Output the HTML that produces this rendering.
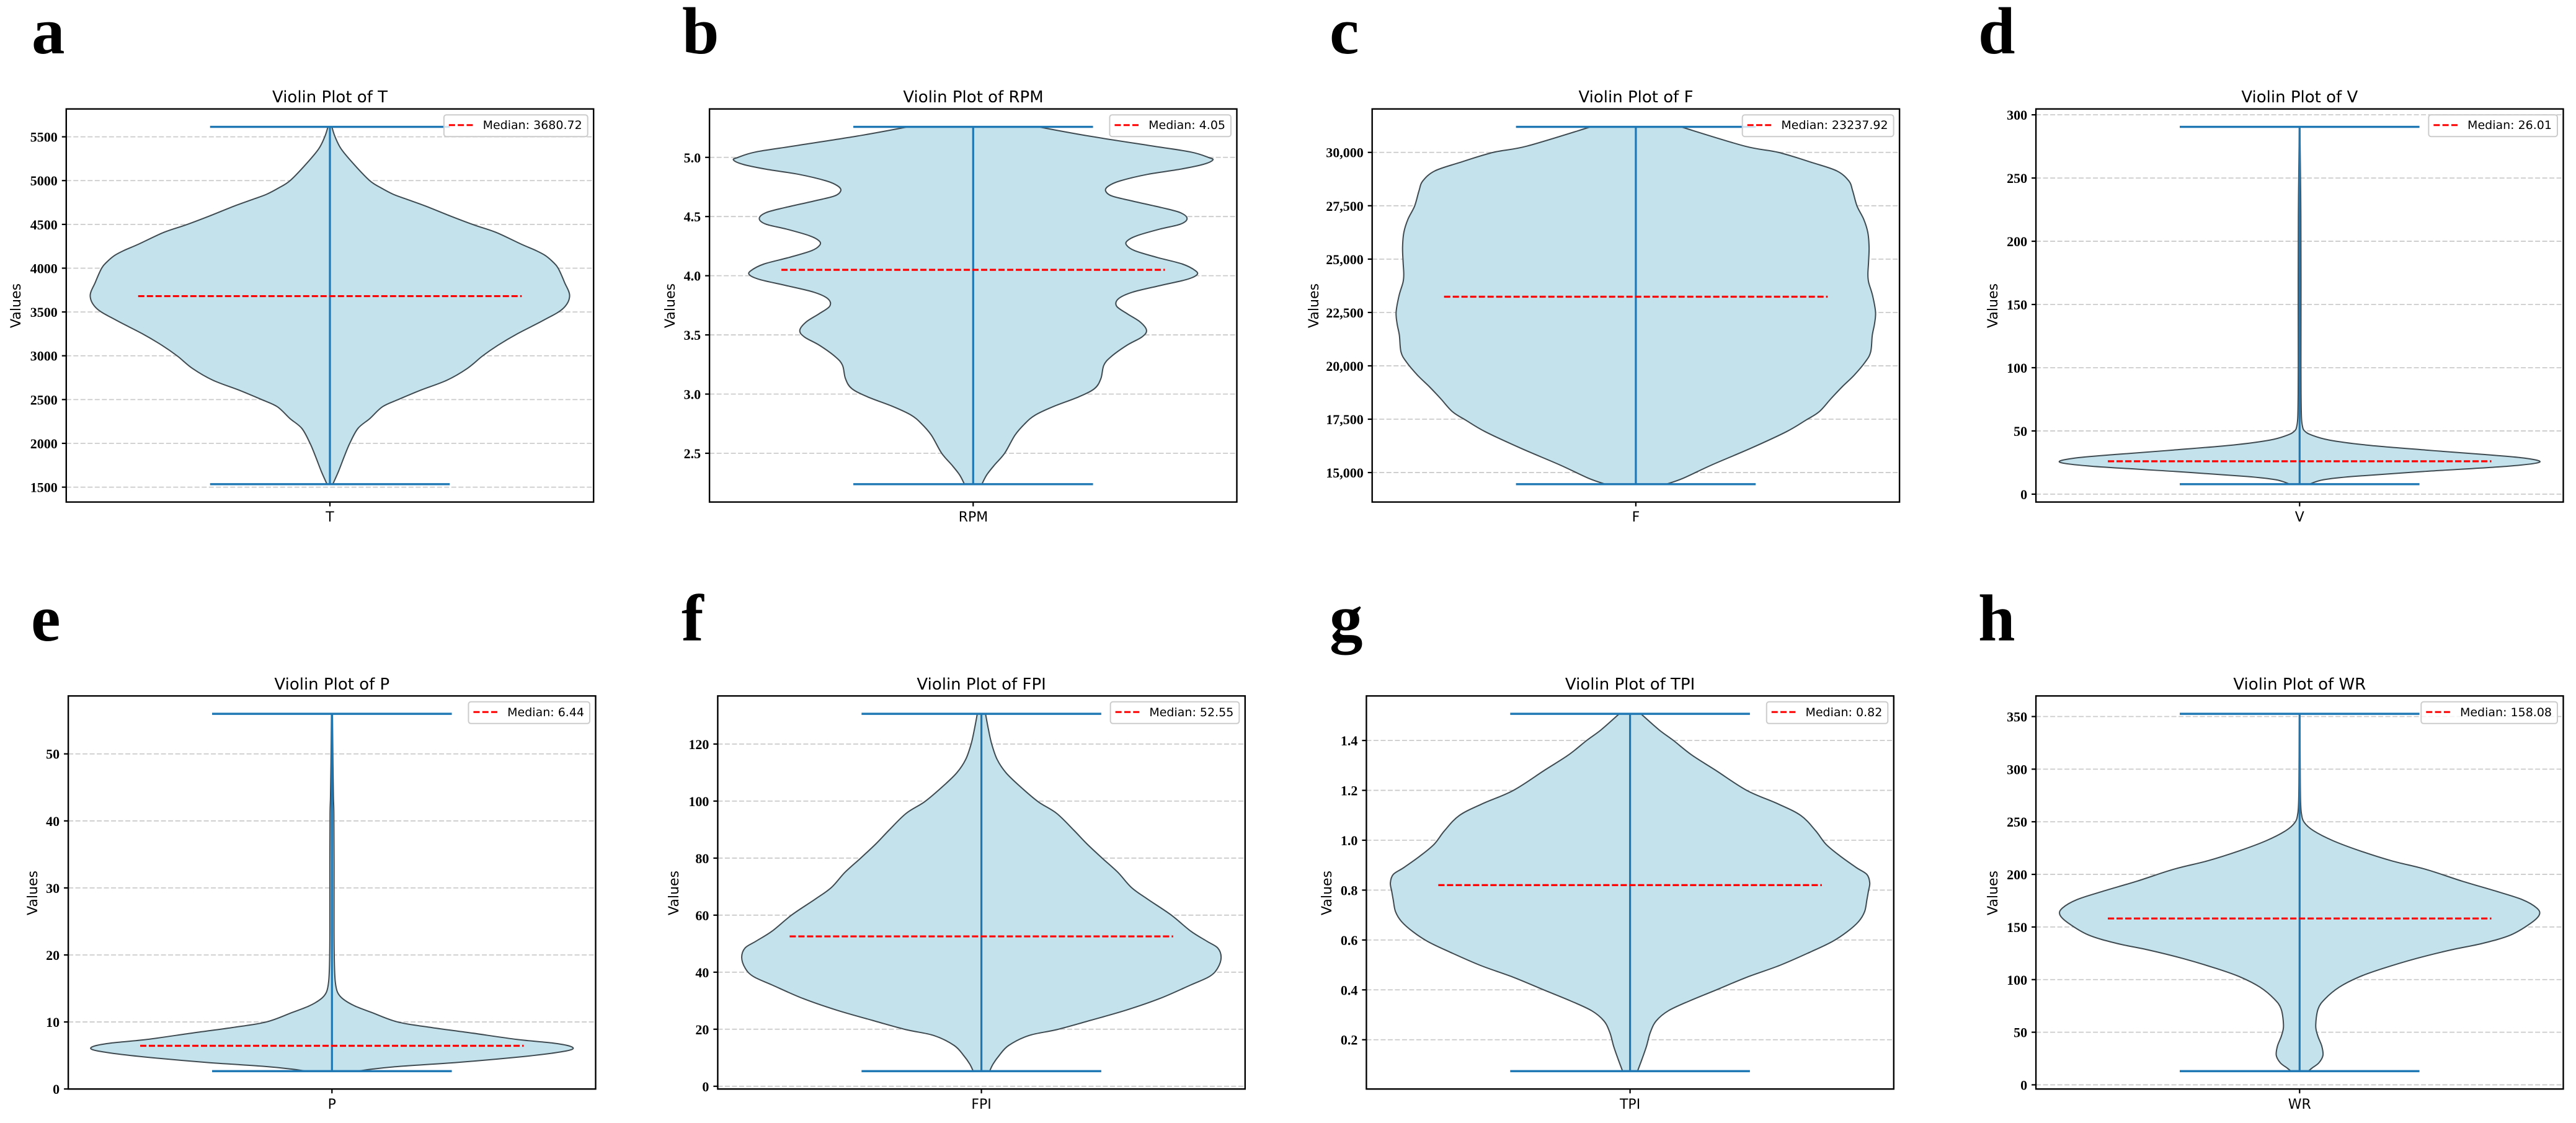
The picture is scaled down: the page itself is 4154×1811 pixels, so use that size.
<!DOCTYPE html>
<html lang="en">
<head>
<meta charset="utf-8">
<title>Violin plots of T, RPM, F, V, P, FPI, TPI and WR</title>
<style>
html,body{margin:0;padding:0;background:#fff;}
svg{display:block;position:absolute;left:0;top:0;}
.letter{font-family:"Liberation Serif",serif;font-weight:700;font-size:107px;fill:#000;}
.title{font-family:"DejaVu Sans",sans-serif;font-size:26px;fill:#000;text-anchor:middle;}
.axis{font-family:"DejaVu Sans",sans-serif;font-size:22px;fill:#000;text-anchor:middle;}
.tick{font-family:"Liberation Serif",serif;font-weight:700;font-size:22px;fill:#000;text-anchor:end;}
.legend-text{font-family:"DejaVu Sans",sans-serif;font-size:19px;fill:#000;}
</style>
</head>
<body>
<svg id="figure" xmlns="http://www.w3.org/2000/svg" width="4154" height="1811" viewBox="0 0 4154 1811">
<rect x="0" y="0" width="4154" height="1811" fill="#ffffff"/>

<g id="panel-a">
<text class="letter" x="51" y="86">a</text>
<text class="title" x="532" y="165">Violin Plot of T</text>
<text class="axis" transform="translate(33 493) rotate(-90)">Values</text>
<text class="axis" x="532" y="841">T</text>
</g>
<g id="panel-b">
<text class="letter" x="1100" y="86">b</text>
<text class="title" x="1569.5" y="165">Violin Plot of RPM</text>
<text class="axis" transform="translate(1088 493) rotate(-90)">Values</text>
<text class="axis" x="1569.5" y="841">RPM</text>
</g>
<g id="panel-c">
<text class="letter" x="2144" y="86">c</text>
<text class="title" x="2638" y="165">Violin Plot of F</text>
<text class="axis" transform="translate(2126 493) rotate(-90)">Values</text>
<text class="axis" x="2638" y="841">F</text>
</g>
<g id="panel-d">
<text class="letter" x="3190" y="86">d</text>
<text class="title" x="3708.3" y="165">Violin Plot of V</text>
<text class="axis" transform="translate(3221 493) rotate(-90)">Values</text>
<text class="axis" x="3708.3" y="841">V</text>
</g>
<g id="panel-e">
<text class="letter" x="50" y="1033">e</text>
<text class="title" x="535.3" y="1112">Violin Plot of P</text>
<text class="axis" transform="translate(60 1440) rotate(-90)">Values</text>
<text class="axis" x="535.3" y="1788">P</text>
</g>
<g id="panel-f">
<text class="letter" x="1099" y="1033">f</text>
<text class="title" x="1582.6" y="1112">Violin Plot of FPI</text>
<text class="axis" transform="translate(1094 1440) rotate(-90)">Values</text>
<text class="axis" x="1582.6" y="1788">FPI</text>
</g>
<g id="panel-g">
<text class="letter" x="2144" y="1033">g</text>
<text class="title" x="2628.6" y="1112">Violin Plot of TPI</text>
<text class="axis" transform="translate(2147 1440) rotate(-90)">Values</text>
<text class="axis" x="2628.6" y="1788">TPI</text>
</g>
<g id="panel-h">
<text class="letter" x="3190" y="1033">h</text>
<text class="title" x="3708.3" y="1112">Violin Plot of WR</text>
<text class="axis" transform="translate(3221 1440) rotate(-90)">Values</text>
<text class="axis" x="3708.3" y="1788">WR</text>
</g>
</svg>

<script>
// Kernel-density outlines: value along the y axis and
// relative width (1 = widest point of that violin).
const tValues = [5614,5500,5356,5166,4996,4920,4844,4787,4711,4598,4495,4408,4275,4200,4143,4068,4000,3840,3680,3536,3404,3252,3119,2998,2854,2721,2607,2501,2418,2285,2171,2001,1849,1679,1534];
const tDensity = [.008,.02,.04,.106,.171,.205,.262,.313,.387,.497,.596,.68,.80,.855,.89,.925,.94,.967,1,.97,.887,.767,.69,.63,.57,.49,.37,.278,.214,.167,.112,.08,.06,.035,.012];
const tTickLabels = ["1500","2000","2500","3000","3500","4000","4500","5000","5500"];

const rpmValues = [5.258,5.18,5.095,5.045,5.0,4.978,4.941,4.899,4.857,4.801,4.759,4.719,4.674,4.632,4.576,4.534,4.484,4.436,4.394,4.338,4.296,4.259,4.212,4.155,4.099,4.043,4.007,3.967,3.917,3.861,3.805,3.743,3.678,3.608,3.538,3.482,3.412,3.314,3.243,3.131,3.047,2.977,2.893,2.822,2.752,2.654,2.5,2.402,2.317,2.239];
const rpmDensity = [.268,.456,.774,.911,.979,1,.962,.859,.72,.59,.557,.54,.562,.645,.789,.861,.893,.868,.774,.662,.633,.628,.654,.756,.876,.925,.931,.894,.774,.645,.593,.581,.636,.696,.724,.705,.636,.559,.537,.53,.508,.448,.319,.25,.216,.173,.13,.087,.053,.036];
const rpmTickLabels = ["2.5","3.0","3.5","4.0","4.5","5.0"];

const fValues = [31198,30296,30000,29518,29129,28662,28195,27495,26872,26250,25550,24850,24305,23916,23294,22516,21971,21427,20648,20182,19559,19015,18470,17848,17459,16914,16136,15358,14736,14456];
const fDensity = [.187,.487,.581,.745,.845,.892,.90,.916,.95,.966,.971,.967,.964,.964,.985,1,.993,.981,.979,.959,.907,.856,.813,.762,.71,.642,.479,.307,.187,.127];
const fTickLabels = ["15,000","17,500","20,000","22,500","25,000","27,500","30,000"];

const vValues = [290.5,249,220,167.6,102,75.6,59.9,53.3,50,46.8,42.8,38.9,34.9,31.5,28.4,25.2,22.1,17.9,14,11.4,7.9];
const vDensity = [.001,.004,.005,.006,.005,.006,.007,.012,.017,.04,.108,.245,.52,.743,.94,1,.897,.485,.177,.091,.039];
const vTickLabels = ["0","50","100","150","200","250","300"];

const pValues = [55.98,48.5,43.57,41.05,33.52,23.47,18.44,15.93,14.42,13.42,12.41,11.41,10,9.15,8.39,7.39,6.88,6.38,5.88,5.38,4.77,3.97,3.37,2.96,2.66];
const pDensity = [.002,.004,.006,.008,.009,.008,.01,.013,.021,.041,.089,.158,.261,.415,.552,.775,.912,.99,1,.921,.792,.518,.244,.158,.106];
const pTickLabels = ["0","10","20","30","40","50"];

const fpiValues = [130.6,125.2,120,114.6,109.9,105.1,99.8,95.7,89.8,85.1,80,75,69.7,65.6,60.1,54.4,50.9,48.5,45.2,41.4,38.5,35.5,30.8,26.7,23.1,19.9,17.8,14.3,10.7,7.8,5.3];
const fpiDensity = [.017,.029,.041,.063,.098,.158,.235,.312,.389,.432,.501,.569,.621,.681,.792,.87,.938,.986,1,.981,.955,.878,.741,.604,.449,.312,.192,.103,.072,.046,.034];
const fpiTickLabels = ["0","20","40","60","80","100","120"];

const tpiValues = [1.507,1.443,1.4,1.342,1.281,1.2,1.146,1.099,1.038,.984,.937,.89,.863,.829,.795,.761,.714,.674,.633,.593,.552,.498,.451,.4,.356,.316,.275,.228,.174,.12,.074];
const tpiDensity = [.045,.125,.176,.253,.348,.485,.622,.716,.776,.81,.87,.947,.99,1,.99,.985,.978,.955,.904,.844,.759,.622,.485,.356,.245,.151,.104,.082,.07,.048,.031];
const tpiTickLabels = ["0.2","0.4","0.6","0.8","1.0","1.2","1.4"];

const wrValues = [352.6,286.3,267.1,257.5,249.6,241.6,232,222.4,212.8,204.8,193.6,184,176,168,161.6,153.6,142.4,134.4,128,120,110.4,102.4,92.8,81.6,72,56,46.4,36.8,27.9,20.8,16,13];
const wrDensity = [.001,.003,.004,.007,.014,.048,.134,.245,.382,.52,.674,.82,.931,.991,1,.966,.88,.76,.623,.485,.331,.245,.16,.099,.074,.063,.074,.094,.101,.082,.048,.036];
const wrTickLabels = ["0","50","100","150","200","250","300","350"];

const medianValues = [3680.72,4.05,23237.92,26.01,6.44,52.55,0.82,158.08];
const seriesNames = ["t","rpm","f","v","p","fpi","tpi","wr"];
const seriesValues = [tValues,rpmValues,fValues,vValues,pValues,fpiValues,tpiValues,wrValues];
const seriesDensity = [tDensity,rpmDensity,fDensity,vDensity,pDensity,fpiDensity,tpiDensity,wrDensity];
const seriesTickLabels = [tTickLabels,rpmTickLabels,fTickLabels,vTickLabels,pTickLabels,fpiTickLabels,tpiTickLabels,wrTickLabels];

// Page layout of the eight axes frames (not chart data).
const frameIds = ["a","b","c","d","e","f","g","h"];
const frameLefts = [106.8,1144.1,2212.7,3283.1,110.1,1157.4,2203.4,3283.1];
const frameTops = [175.7,175.7,175.7,175.7,1122.3,1122.3,1122.3,1122.3];
const FRAME_W = 850.4, FRAME_H = 633.9;
const NS = "http://www.w3.org/2000/svg";

function mk(parent, tag, attrs) {
  const el = document.createElementNS(NS, tag);
  for (const k in attrs) el.setAttribute(k, attrs[k]);
  parent.appendChild(el);
  return el;
}

// Light outline smoothing, as a KDE curve has no corners from hand-read points.
function softened(density) {
  const out = density.map(function (d, i) {
    if (i === 0 || i === density.length - 1) return d;
    return 0.17 * density[i - 1] + 0.66 * d + 0.17 * density[i + 1];
  });
  const peak = Math.max.apply(null, out);
  const target = Math.max.apply(null, density);
  return out.map(function (d) { return d * target / peak; });
}

function smoothSide(pts) {
  let d = "";
  for (let i = 0; i < pts.length - 1; i++) {
    const p0 = pts[Math.max(i - 1, 0)], p1 = pts[i], p2 = pts[i + 1], p3 = pts[Math.min(i + 2, pts.length - 1)];
    const c1x = p1[0] + (p2[0] - p0[0]) / 6, c1y = p1[1] + (p2[1] - p0[1]) / 6;
    const c2x = p2[0] - (p3[0] - p1[0]) / 6, c2y = p2[1] - (p3[1] - p1[1]) / 6;
    d += "C" + c1x.toFixed(2) + " " + c1y.toFixed(2) + " " + c2x.toFixed(2) + " " + c2y.toFixed(2) + " " + p2[0].toFixed(2) + " " + p2[1].toFixed(2);
  }
  return d;
}

function drawPanel(i) {
  const g = document.getElementById("panel-" + frameIds[i]);
  const name = seriesNames[i];
  const values = seriesValues[i];
  const density = softened(seriesDensity[i]);
  const labels = seriesTickLabels[i];
  const median = medianValues[i];
  const left = frameLefts[i], top = frameTops[i];
  const lo = Math.min.apply(null, values), hi = Math.max.apply(null, values);
  const pad = (hi - lo) * 0.05;
  const yScale = function (v) { return top + FRAME_H * (1 - (v - (lo - pad)) / (hi - lo + 2 * pad)); };
  const xScale = function (v) { return left + FRAME_W * (v - 0.45) / 1.1; };

  labels.forEach(function (label) {
    const v = parseFloat(label.replace(/,/g, ""));
    const y = yScale(v);
    const grid = mk(g, "line", {x1: left, x2: left + FRAME_W, y1: y, y2: y, stroke: "#cbcbcb", "stroke-width": 1.8, "stroke-dasharray": "8 3.5"});
    
    
  });

  const right = values.map(function (v, k) { return [xScale(1 + density[k] * 0.5), yScale(v)]; });
  const leftSide = values.map(function (v, k) { return [xScale(1 - density[k] * 0.5), yScale(v)]; }).reverse();
  const d = "M" + right[0][0].toFixed(2) + " " + right[0][1].toFixed(2) + smoothSide(right) +
    "L" + leftSide[0][0].toFixed(2) + " " + leftSide[0][1].toFixed(2) + smoothSide(leftSide) + "Z";
  const body = mk(g, "path", {d: d, fill: "#c3e2ec", stroke: "#3e4a50", "stroke-width": 2, "stroke-linejoin": "round"});
  
  

  const bar = mk(g, "line", {x1: xScale(1), x2: xScale(1), y1: yScale(hi), y2: yScale(lo), stroke: "#1f77b4", "stroke-width": 3.2});
  
  

  const capTop = mk(g, "line", {x1: xScale(0.75), x2: xScale(1.25), y1: yScale(hi), y2: yScale(hi), stroke: "#1f77b4", "stroke-width": 3.4});
  
  

  const capBottom = mk(g, "line", {x1: xScale(0.75), x2: xScale(1.25), y1: yScale(lo), y2: yScale(lo), stroke: "#1f77b4", "stroke-width": 3.4});
  
  

  const med = mk(g, "line", {x1: xScale(0.6), x2: xScale(1.4), y1: yScale(median), y2: yScale(median), stroke: "#ff0000", "stroke-width": 3.2, "stroke-dasharray": "10 4"});
  
  

  const frame = mk(g, "rect", {x: left, y: top, width: FRAME_W, height: FRAME_H, fill: "none", stroke: "#000", "stroke-width": 2.4});
  
  

  labels.forEach(function (label) {
    const v = parseFloat(label.replace(/,/g, ""));
    const y = yScale(v);
    const tick = mk(g, "line", {x1: left - 7, x2: left, y1: y, y2: y, stroke: "#000", "stroke-width": 2.2});
    
    
    const text = mk(g, "text", {class: "tick", x: left - 14, y: y + 8});
    text.textContent = label;
    
    
  });

  const xTick = mk(g, "line", {x1: xScale(1), x2: xScale(1), y1: top + FRAME_H, y2: top + FRAME_H + 7, stroke: "#000", "stroke-width": 2.2});
  
  

  const legendRight = left + FRAME_W - 9.5, legendTop = top + 9.5;
  const box = mk(g, "rect", {y: legendTop, height: 35, rx: 4, ry: 4, fill: "#ffffff", "fill-opacity": 0.8, stroke: "#cccccc", "stroke-width": 2});
  
  
  const legendText = mk(g, "text", {class: "legend-text", y: legendTop + 23});
  legendText.textContent = "Median: " + median.toFixed(2);
  
  
  const textW = legendText.getComputedTextLength();
  const textX = legendRight - 9 - textW;
  legendText.setAttribute("x", textX);
  box.setAttribute("x", textX - 62.7);
  box.setAttribute("width", textW + 62.7 + 9);
  const handle = mk(g, "line", {x1: textX - 54.7, x2: textX - 16, y1: legendTop + 16.5, y2: legendTop + 16.5, stroke: "#ff0000", "stroke-width": 3, "stroke-dasharray": "10 4.3"});
  
  
}

seriesNames.forEach(function (_, i) { drawPanel(i); });
</script>
</body>
</html>
